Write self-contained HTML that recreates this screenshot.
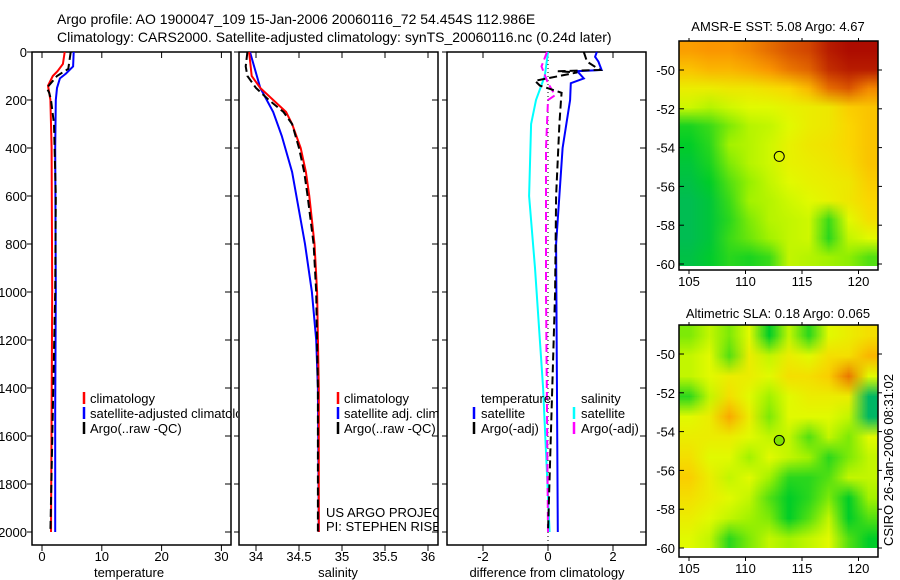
<!DOCTYPE html>
<html><head><meta charset="utf-8"><style>
html,body{margin:0;padding:0;background:#fff}
#wrap{position:relative;width:900px;height:580px}
svg{display:block;position:absolute;left:0;top:0;font-family:"Liberation Sans",sans-serif}
canvas{position:absolute;image-rendering:auto}
</style></head><body>
<div id="wrap">
<canvas id="sstCanvas" width="10" height="12" style="left:679px;top:41px;width:199px;height:225px"></canvas>
<canvas id="slaCanvas" width="10" height="11" style="left:679px;top:325px;width:199px;height:223px"></canvas>
<svg id="fig" width="900" height="580" viewBox="0 0 900 580">
<defs>
<clipPath id="p1"><rect x="32" y="52" width="206" height="493"/></clipPath>
<clipPath id="p2"><rect x="239" y="52" width="199" height="493"/></clipPath>
</defs>
<text x="57" y="24" font-size="14">Argo profile: AO 1900047_109 15-Jan-2006 20060116_72 54.454S 112.986E</text>
<text x="57" y="42" font-size="14">Climatology: CARS2000. Satellite-adjusted climatology: synTS_20060116.nc (0.24d later)</text>
</svg>
</div>
<script>
// ---- data ----
const depthTicks=[0,200,400,600,800,1000,1200,1400,1600,1800,2000];
const tempTicks=[0,10,20,30];
const salTicks=[34,34.5,35,35.5,36];
const diffTicks=[-2,0,2];
const tClimD=[0,50,80,100,140,200,400,1000,1500,2000];
const tClimV=[3.8,3.5,2.6,1.8,1.0,1.4,1.6,1.7,1.6,1.5];
const tSatD=[0,60,90,110,150,200,400,1000,1500,2000];
const tSatV=[5.3,5.2,4.0,3.0,2.5,2.3,2.2,2.3,2.2,2.2];
const tArgoD=[0,70,100,150,170,200,300,600,1000,1500,2000];
const tArgoV=[4.8,4.4,2.5,0.8,1.2,1.5,2.0,2.3,2.2,1.8,1.4];
const sClimD=[0,100,150,200,250,300,400,500,600,800,1000,1400,2000];
const sClimV=[33.92,33.95,34.05,34.2,34.35,34.42,34.52,34.58,34.62,34.68,34.71,34.73,34.73];
const sSatD=[0,150,250,350,500,700,800,1000,1200,1400,2000];
const sSatV=[33.93,34.05,34.2,34.3,34.42,34.52,34.57,34.65,34.7,34.72,34.73];
const sArgoD=[0,60,100,150,200,250,300,400,500,600,800,1000,1400,2000];
const sArgoV=[33.9,33.88,33.9,34.0,34.15,34.32,34.42,34.5,34.56,34.6,34.67,34.7,34.72,34.72];
const dTSatD=[0,20,40,75,80,110,130,200,400,800,2000];
const dTSatV=[1.5,1.45,1.55,1.65,0.9,1.1,0.7,0.68,0.45,0.25,0.3];
const dSSatD=[0,100,200,300,600,900,1400,2000];
const dSSatV=[0,-0.1,-0.37,-0.52,-0.58,-0.4,-0.15,0.05];
const dTArgoD=[0,40,75,80,85,120,140,170,200,300,600,1000,2000];
const dTArgoV=[1.1,1.2,1.6,0.3,0.9,-0.4,-0.25,0.42,0.4,0.35,0.25,0.22,0.0];
const dSArgoD=[0,60,130,180,200,400,1000,2000];
const dSArgoV=[-0.03,-0.2,0,0.22,0,-0.06,-0.06,0];
const latTicks=[-50,-52,-54,-56,-58,-60];
const lonTicks=[105,110,115,120];
const sstGrid=[
[.70,.72,.72,.75,.80,.85,.88,.95,.98,.98],
[.62,.65,.65,.68,.72,.78,.82,.92,.95,.95],
[.50,.50,.52,.52,.55,.58,.65,.80,.85,.75],
[.42,.38,.42,.45,.45,.48,.50,.52,.60,.62],
[.18,.22,.30,.38,.40,.45,.50,.52,.58,.62],
[.15,.20,.35,.38,.42,.48,.52,.54,.58,.62],
[.12,.18,.30,.38,.42,.48,.50,.52,.56,.62],
[.10,.15,.25,.33,.40,.45,.48,.50,.52,.60],
[.08,.12,.22,.35,.38,.42,.45,.48,.52,.58],
[.08,.12,.20,.30,.38,.40,.42,.22,.45,.55],
[.08,.12,.22,.28,.35,.40,.42,.20,.40,.45],
[.10,.14,.20,.18,.22,.40,.38,.35,.32,.25]];
const slaGrid=[
[.30,.40,.30,.45,.15,.40,.20,.45,.50,.55],
[.40,.45,.25,.50,.40,.50,.45,.55,.55,.65],
[.40,.45,.50,.50,.45,.55,.55,.60,.78,.45],
[.20,.40,.55,.45,.35,.45,.50,.50,.50,.05],
[.45,.50,.68,.50,.30,.45,.45,.45,.40,.05],
[.50,.50,.50,.45,.40,.40,.25,.40,.30,.45],
[.55,.45,.45,.35,.45,.40,.35,.20,.30,.40],
[.60,.50,.40,.45,.35,.20,.20,.25,.40,.40],
[.55,.50,.45,.40,.25,.15,.20,.30,.15,.35],
[.50,.45,.40,.35,.30,.15,.25,.40,.15,.25],
[.45,.40,.20,.30,.40,.35,.40,.45,.25,.15]];
const floatLon=112.986, floatLat=-54.454;

// ---- helpers ----
const NS='http://www.w3.org/2000/svg';
const svg=document.getElementById('fig');
function mk(tag,attrs,parent){const e=document.createElementNS(NS,tag);for(const k in attrs)e.setAttribute(k,attrs[k]);(parent||svg).appendChild(e);return e;}
const yD=d=>52+d*0.24;
const xT=v=>42+v*5.98;
const xS=v=>256+(v-34)*86;
const xDf=v=>548+v*32.5;
const lonX=l=>689+(l-105)*11.3;
const latY1=l=>70+(-50-l)*19.4;
const latY2=l=>354+(-50-l)*19.4;

function panel(x0,name){
  const r=mk('rect',{x:x0,y:52,width:199,height:493,fill:'none',stroke:'#000','stroke-width':1.5});
  
  
  depthTicks.forEach(d=>{
    const y=yD(d);
    const t=mk('line',{x1:x0-5,y1:y,x2:x0,y2:y,stroke:'#000'});
    
    
    const t2=mk('line',{x1:x0+199,y1:y,x2:x0+193,y2:y,stroke:'#000'});
    
    
  });
}
function xticks(vals,fx,name){
  vals.forEach(v=>{
    const x=fx(v);
    const a=mk('line',{x1:x,y1:52,x2:x,y2:58,stroke:'#000'});
    
    
    const b=mk('line',{x1:x,y1:545,x2:x,y2:551,stroke:'#000'});
    
    
    const t=mk('text',{x:x,y:561,'font-size':13,'text-anchor':'middle'});
    t.textContent=String(v);
    
    
  });
}
function line(D,V,fx,color,w,dash,name){
  const pts=D.map((d,i)=>fx(V[i]).toFixed(1)+','+yD(d).toFixed(1)).join(' ');
  const p=mk('polyline',{points:pts,fill:'none',stroke:color,'stroke-width':w,'stroke-dasharray':dash||'none'});
  
  
}
function txt(x,y,s,name,extra){
  const t=mk('text',Object.assign({x:x,y:y,'font-size':13},extra||{}));
  t.textContent=s;
  
  
  return t;
}
function legendMark(x,y,color,name){
  const l=mk('line',{x1:x,y1:y-6,x2:x,y2:y+6,stroke:color,'stroke-width':2.5});
  
  
}

// panels
panel(32,'temperature-panel');panel(239,'salinity-panel');panel(447,'difference-panel');
depthTicks.forEach(d=>txt(27,yD(d)+5,String(d),'depth-tick-label',{'text-anchor':'end'}));
xticks(tempTicks,xT,'temperature');xticks(salTicks,xS,'salinity');xticks(diffTicks,xDf,'difference');
txt(129,577,'temperature','x-axis-title-temperature',{'text-anchor':'middle'});
txt(338,577,'salinity','x-axis-title-salinity',{'text-anchor':'middle'});
txt(547,577,'difference from climatology','x-axis-title-difference',{'text-anchor':'middle'});

line(tSatD,tSatV,xT,'#0000ff',2,null,'temp-satellite-line');
line(tClimD,tClimV,xT,'#ff0000',2,null,'temp-climatology-line');
line(tArgoD,tArgoV,xT,'#000',2,'8,4','temp-argo-line');
line(sSatD,sSatV,xS,'#0000ff',2,null,'sal-satellite-line');
line(sClimD,sClimV,xS,'#ff0000',2,null,'sal-climatology-line');
line(sArgoD,sArgoV,xS,'#000',2,'8,4','sal-argo-line');
const z=mk('line',{x1:xDf(0),y1:52,x2:xDf(0),y2:545,stroke:'#000','stroke-dasharray':'1,3'});


line(dSSatD,dSSatV,xDf,'#00ffff',2,null,'diff-sal-satellite-line');
line(dTSatD,dTSatV,xDf,'#0000ff',2,null,'diff-temp-satellite-line');
line(dSArgoD,dSArgoV,xDf,'#ff00ff',2,'8,4','diff-sal-argo-line');
line(dTArgoD,dTArgoV,xDf,'#000',2,'8,4','diff-temp-argo-line');

const c1={'clip-path':'url(#p1)'}, c2={'clip-path':'url(#p2)'};
legendMark(84,398,'#ff0000','legend-temp-climatology-mark');txt(90,403,'climatology','legend-temp-climatology',c1);
legendMark(84,413,'#0000ff','legend-temp-satellite-mark');txt(90,418,'satellite-adjusted climatology','legend-temp-satellite',c1);
legendMark(84,428,'#000','legend-temp-argo-mark');txt(90,433,'Argo(..raw -QC)','legend-temp-argo',c1);
legendMark(338,398,'#ff0000','legend-sal-climatology-mark');txt(344,403,'climatology','legend-sal-climatology',c2);
legendMark(338,413,'#0000ff','legend-sal-satellite-mark');txt(344,418,'satellite adj. clim.','legend-sal-satellite',c2);
legendMark(338,428,'#000','legend-sal-argo-mark');txt(344,433,'Argo(..raw -QC)','legend-sal-argo',c2);
txt(481,403,'temperature','legend-diff-temperature-header');
legendMark(474,413,'#0000ff','legend-diff-temp-satellite-mark');txt(481,418,'satellite','legend-diff-temp-satellite');
legendMark(474,428,'#000','legend-diff-temp-argo-mark');txt(481,433,'Argo(-adj)','legend-diff-temp-argo');
txt(581,403,'salinity','legend-diff-salinity-header');
legendMark(574,413,'#00ffff','legend-diff-sal-satellite-mark');txt(581,418,'satellite','legend-diff-sal-satellite');
legendMark(574,428,'#ff00ff','legend-diff-sal-argo-mark');txt(581,433,'Argo(-adj)','legend-diff-sal-argo');
txt(326,517,'US ARGO PROJECT','project-label',c2);
txt(326,531,'PI: STEPHEN RISER','pi-label',c2);

// maps
const stops=[[0,[0,170,130]],[0.15,[0,205,40]],[0.33,[150,240,0]],[0.45,[225,250,0]],[0.58,[250,215,0]],[0.72,[250,150,0]],[0.88,[210,70,0]],[1,[165,0,0]]];
function cmapRGB(v){for(let i=1;i<stops.length;i++){if(v<=stops[i][0]){const a=stops[i-1],b=stops[i];const t=(v-a[0])/(b[0]-a[0]);return a[1].map((x,k)=>Math.round(x+(b[1][k]-x)*t));}}return [165,0,0];}
function paint(id,grid){
  const cv=document.getElementById(id),ctx=cv.getContext('2d');
  const img=ctx.createImageData(grid[0].length,grid.length);
  grid.forEach((row,r)=>row.forEach((v,c)=>{const k=(r*row.length+c)*4,col=cmapRGB(v);img.data[k]=col[0];img.data[k+1]=col[1];img.data[k+2]=col[2];img.data[k+3]=255;}));
  ctx.putImageData(img,0,0);
}
paint('sstCanvas',sstGrid);paint('slaCanvas',slaGrid);
function map(top,fh,latY,name,title,titleY,dotFill){
  const f=mk('rect',{x:679,y:top,width:199,height:fh,fill:'none',stroke:'#000','stroke-width':1.5});
  
  
  const fb=top+fh;
  latTicks.forEach(l=>{
    const y=latY(l);
    const a=mk('line',{x1:679,y1:y,x2:684,y2:y,stroke:'#000'});
    
    
    const b=mk('line',{x1:878,y1:y,x2:882,y2:y,stroke:'#000'});
    
    
    txt(675,y+5,String(l),name+'-lat-label',{'text-anchor':'end'});
  });
  lonTicks.forEach(l=>{
    const x=lonX(l);
    const a=mk('line',{x1:x,y1:top,x2:x,y2:top-3,stroke:'#000'});
    
    
    const b=mk('line',{x1:x,y1:fb,x2:x,y2:fb+4,stroke:'#000'});
    
    
    txt(x,fb+16,String(l),name+'-lon-label',{'text-anchor':'middle'});
  });
  const d=mk('circle',{cx:lonX(floatLon),cy:latY(floatLat),r:5,fill:dotFill,stroke:'#000','stroke-width':1});
  
  
  txt(778,titleY,title,name+'-title',{'text-anchor':'middle'});
}
map(41,229,latY1,'sst-map','AMSR-E SST: 5.08 Argo: 4.67',31,'none');
map(325,232,latY2,'sla-map','Altimetric SLA: 0.18 Argo: 0.065',318,'#80e000');
txt(0,0,'CSIRO 26-Jan-2006 08:31:02','timestamp-label',{transform:'translate(893,546) rotate(-90)'});
</script>
</body></html>
